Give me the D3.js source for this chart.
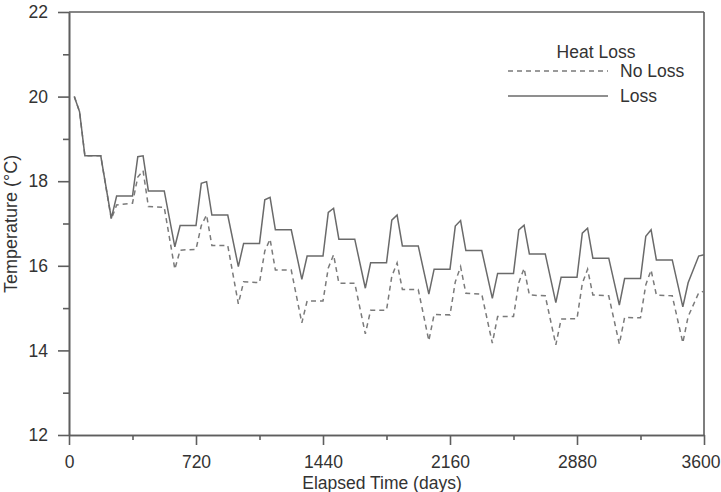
<!DOCTYPE html>
<html>
<head>
<meta charset="utf-8">
<script src="https://cdn.jsdelivr.net/npm/d3@7"></script>
<style>
  body { margin: 0; background: #fff; }
  svg text { font-family: "Liberation Sans", Arial, sans-serif; fill: #333; }
</style>
</head>
<body>
<svg id="bg" width="721" height="492"></svg>
<script>
// elapsed time of each vertex (days)
var days = [30,60,90,180,240,270,360,
  390,420,450,540,600,630,720,
  750,780,810,900,960,990,1080,
  1110,1140,1170,1260,1320,1350,1440,
  1470,1500,1530,1620,1680,1710,1800,
  1830,1860,1890,1980,2040,2070,2160,
  2190,2220,2250,2340,2400,2430,2520,
  2550,2580,2610,2700,2760,2790,2880,
  2910,2940,2970,3060,3120,3150,3240,
  3270,3300,3330,3420,3480,3510,3570,3600];

// temperature (C) with heat loss
var loss = [20.0,19.64,18.6,18.6,17.12,17.65,17.65,
  18.58,18.6,17.77,17.77,16.45,16.95,16.95,
  17.95,17.99,17.2,17.2,15.98,16.53,16.53,
  17.56,17.62,16.85,16.85,15.68,16.23,16.23,
  17.26,17.36,16.63,16.63,15.47,16.07,16.07,
  17.08,17.2,16.47,16.47,15.33,15.92,15.92,
  16.94,17.07,16.36,16.36,15.23,15.82,15.82,
  16.85,16.96,16.28,16.28,15.13,15.73,15.73,
  16.77,16.89,16.18,16.18,15.07,15.70,15.70,
  16.70,16.85,16.14,16.14,15.03,15.6,16.23,16.26];

// temperature (C) without heat loss
var noLoss = [20.0,19.64,18.6,18.6,17.1,17.44,17.48,
  18.1,18.25,17.4,17.38,15.92,16.37,16.39,
  16.95,17.2,16.48,16.48,15.1,15.62,15.6,
  16.35,16.63,15.9,15.9,14.65,15.17,15.17,
  15.95,16.26,15.59,15.59,14.39,14.95,14.95,
  15.75,16.07,15.44,15.44,14.23,14.85,14.84,
  15.62,15.98,15.35,15.33,14.17,14.8,14.8,
  15.6,15.94,15.31,15.29,14.13,14.74,14.75,
  15.58,15.92,15.31,15.29,14.15,14.78,14.77,
  15.55,15.9,15.31,15.29,14.18,14.8,15.36,15.4];

var xTicks = [0,720,1440,2160,2880,3600];
var xMinor = [360,1080,1800,2520,3240];
var yTicks = [12,14,16,18,20,22];
var yMinor = [13,15,17,19,21];

var xScale = d3.scaleLinear().domain([0,3600]).range([69,704]);
var yScale = d3.scaleLinear().domain([12,22]).range([435,12]);

var svg = d3.select('#bg');
var axisColor = '#5e5e5e';

function styleAxis(g) {
  g.selectAll('path, line').attr('stroke', axisColor).attr('stroke-width', 1.6);
  g.selectAll('text').attr('font-size', 17.5).attr('fill', '#333');
}

// frame: top and right
svg.append('line')
  .attr('x1', xScale(0)).attr('x2', xScale(3600))
  .attr('y1', yScale(22)).attr('y2', yScale(22))
  .attr('stroke', axisColor).attr('stroke-width', 1.6);
svg.append('line')
  .attr('x1', xScale(3600)).attr('x2', xScale(3600))
  .attr('y1', yScale(22)).attr('y2', yScale(12))
  .attr('stroke', axisColor).attr('stroke-width', 1.6);

// bottom axis
svg.append('g')
  .attr('transform', 'translate(0,' + yScale(12) + ')')
  .call(d3.axisBottom(xScale).tickValues(xMinor).tickSize(5).tickSizeOuter(0).tickFormat(''))
  .call(styleAxis);
var xAxis = svg.append('g')
  .attr('transform', 'translate(0,' + yScale(12) + ')')
  .call(d3.axisBottom(xScale).tickValues(xTicks).tickSize(10).tickSizeOuter(0)
    .tickPadding(11).tickFormat(d3.format('d')))
  .call(styleAxis);
// last label sits against the right edge
xAxis.selectAll('.tick text')
  .filter(function(d) { return d === 3600; })
  .attr('text-anchor', 'end')
  .attr('dx', 16);

// left axis
svg.append('g')
  .attr('transform', 'translate(' + xScale(0) + ',0)')
  .call(d3.axisLeft(yScale).tickValues(yMinor).tickSize(6).tickSizeOuter(0).tickFormat(''))
  .call(styleAxis);
svg.append('g')
  .attr('transform', 'translate(' + xScale(0) + ',0)')
  .call(d3.axisLeft(yScale).tickValues(yTicks).tickSize(11).tickSizeOuter(0).tickPadding(10))
  .call(styleAxis);

// curves
var line = d3.line()
  .x(function(d) { return xScale(d[0]); })
  .y(function(d) { return yScale(d[1]); });

svg.append('path')
  .datum(days.map(function(d, i) { return [d, noLoss[i]]; }))
  .attr('fill', 'none')
  .attr('stroke', '#7a7a7a')
  .attr('stroke-width', 1.5)
  .attr('stroke-dasharray', '5,4')
  .attr('d', line);

svg.append('path')
  .datum(days.map(function(d, i) { return [d, loss[i]]; }))
  .attr('fill', 'none')
  .attr('stroke', '#6a6a6a')
  .attr('stroke-width', 1.5)
  .attr('d', line);

// axis titles
svg.append('text')
  .text('Elapsed Time (days)')
  .attr('x', 382).attr('y', 489)
  .attr('text-anchor', 'middle')
  .attr('font-size', 17.5);

svg.append('text')
  .text('Temperature (\u00B0C)')
  .attr('transform', 'translate(17,224) rotate(-90)')
  .attr('text-anchor', 'middle')
  .attr('font-size', 18);

// legend
var legend = svg.append('g');
legend.append('text').text('Heat Loss')
  .attr('x', 596).attr('y', 58).attr('text-anchor', 'middle').attr('font-size', 17.5);
legend.append('line')
  .attr('x1', 508).attr('x2', 608).attr('y1', 71).attr('y2', 71)
  .attr('stroke', '#7a7a7a').attr('stroke-width', 1.3).attr('stroke-dasharray', '5,4');
legend.append('text').text('No Loss')
  .attr('x', 620).attr('y', 77).attr('font-size', 17.5);
legend.append('line')
  .attr('x1', 508).attr('x2', 608).attr('y1', 96).attr('y2', 96)
  .attr('stroke', '#6a6a6a').attr('stroke-width', 1.5);
legend.append('text').text('Loss')
  .attr('x', 620).attr('y', 102).attr('font-size', 17.5);
</script>
</body>
</html>
